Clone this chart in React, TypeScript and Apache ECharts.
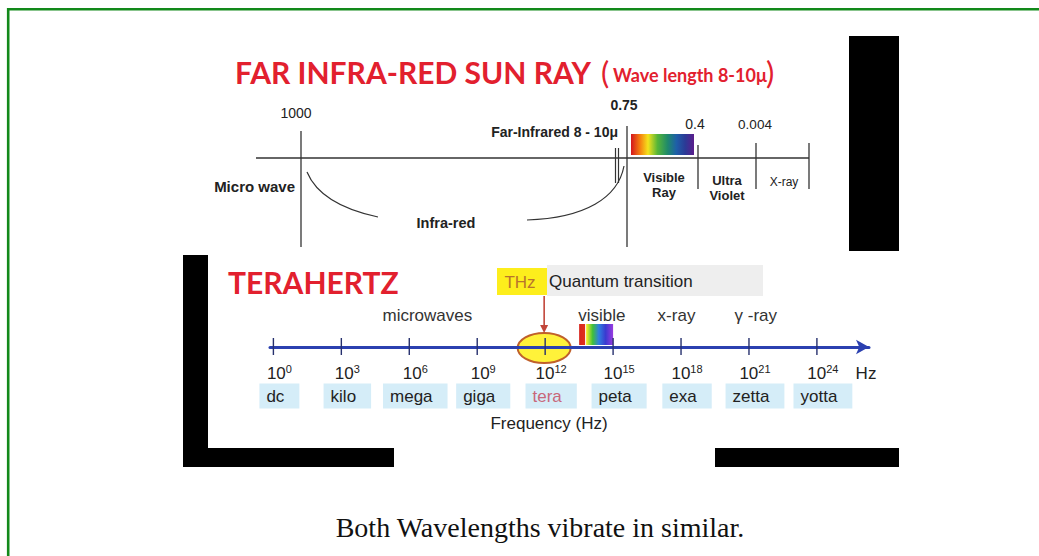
import React, { useEffect, useRef } from 'react';
import * as echarts from 'echarts';

// ---- data ----
const freqExponents = [0, 3, 6, 9, 12, 15, 18, 21, 24];
const prefixNames = ['dc', 'kilo', 'mega', 'giga', 'tera', 'peta', 'exa', 'zetta', 'yotta'];
const bandNames = ['microwaves', 'visible', 'x-ray', 'γ -ray'];
const bandCenters = [6.8, 14.5, 17.8, 21.3];
const visibleRange = [13.5, 15.0];
const terahertzExponent = 12;
const wavelengthTicks = ['1000', '0.75', '0.4', '0.004'];
const wavelengthBands = ['Micro wave', 'Infra-red', 'Visible\nRay', 'Ultra\nViolet', 'X-ray'];
const farInfraredLabel = 'Far-Infrared 8 - 10μ';
const titleMain = 'FAR INFRA-RED SUN RAY';
const titleSub = 'Wave length 8-10μ';
const lowerTitle = 'TERAHERTZ';
const quantumLabel = 'Quantum transition';
const thzLabel = 'THz';
const axisTitle = 'Frequency (Hz)';
const caption = 'Both Wavelengths vibrate in similar.';

const SANS = '"Liberation Sans", Arial, sans-serif';
const TITLE = 'Lato, "Open Sans", sans-serif';
const RED = '#e2202e';
const LINE = '#333333';

const rainbow = (stops: [number, string][]) => ({
  type: 'linear', x: 0, y: 0, x2: 1, y2: 0,
  colorStops: stops.map(([offset, color]) => ({ offset, color })),
});

export default function App() {
  const ref = useRef<HTMLDivElement>(null);
  useEffect(() => {
    if (!ref.current) return;
    const chart = echarts.init(ref.current, null, { renderer: 'svg' });
    const txt = (text: string, x: number, y: number, size: number, opts: any = {}) => ({
      type: 'text', x, y, z: 10,
      style: {
        text, fill: opts.fill || '#222', align: opts.align || 'center', verticalAlign: 'middle',
        font: `${opts.weight || 'normal'} ${size}px ${opts.family || SANS}`,
        lineHeight: opts.lineHeight,
      },
    });
    const ln = (x1: number, y1: number, x2: number, y2: number, w = 1.3) => ({
      type: 'line', z: 5, shape: { x1, y1, x2, y2 }, style: { stroke: LINE, lineWidth: w },
    });

    const graphic: any[] = [
      // frame
      { type: 'rect', z: 1, shape: { x: 8.2, y: 9.3, width: 1200, height: 800 }, style: { fill: 'none', stroke: '#12891a', lineWidth: 2.6 } },
      // black bars
      { type: 'rect', z: 1, shape: { x: 849, y: 36, width: 50, height: 215 }, style: { fill: '#000' } },
      { type: 'rect', z: 1, shape: { x: 183, y: 255, width: 25, height: 212 }, style: { fill: '#000' } },
      { type: 'rect', z: 1, shape: { x: 183, y: 448, width: 211, height: 19 }, style: { fill: '#000' } },
      { type: 'rect', z: 1, shape: { x: 715, y: 448, width: 184, height: 19 }, style: { fill: '#000' } },
      // title
      txt(titleMain, 235, 72, 30, { align: 'left', weight: 'bold', family: TITLE, fill: RED }),
      txt('(', 601, 72, 31, { align: 'left', family: TITLE, fill: RED }),
      txt(titleSub, 613, 75, 18, { align: 'left', weight: 'bold', family: TITLE, fill: RED }),
      txt(')', 766, 72, 31, { align: 'left', family: TITLE, fill: RED }),
      // upper wavelength diagram
      ln(256, 158, 809, 158),
      ln(301, 131, 301, 247),
      ln(627, 126, 627, 247),
      ln(615.5, 148, 615.5, 183, 1.2),
      ln(618.5, 148, 618.5, 183, 1.2),
      ln(698, 145, 698, 189),
      ln(756, 143, 756, 189),
      ln(809, 143, 809, 189),
      { type: 'bezierCurve', z: 5, shape: { x1: 307, y1: 172, cpx1: 317, cpy1: 196, cpx2: 345, cpy2: 210, x2: 378, y2: 217 }, style: { stroke: LINE, lineWidth: 1.2, fill: 'none' } },
      { type: 'bezierCurve', z: 5, shape: { x1: 527, y1: 220, cpx1: 585, cpy1: 218, cpx2: 618, cpy2: 198, x2: 624, y2: 166 }, style: { stroke: LINE, lineWidth: 1.2, fill: 'none' } },
      {
        type: 'rect', z: 4, shape: { x: 631, y: 134, width: 63, height: 21 },
        style: {
          fill: rainbow([[0, '#d4161e'], [0.14, '#f57c0f'], [0.27, '#f4e31c'], [0.42, '#56b638'], [0.58, '#1f8a6a'], [0.72, '#1e5fa8'], [0.86, '#2b3a96'], [1, '#5b1d8c']]),
        },
      },
      txt(wavelengthTicks[0], 296, 113, 14),
      txt(wavelengthTicks[1], 624, 105, 14, { weight: 'bold' }),
      txt(wavelengthTicks[2], 695, 124, 14),
      txt(wavelengthTicks[3], 755, 124, 13.5),
      txt(farInfraredLabel, 618, 132, 14, { align: 'right', weight: 'bold' }),
      txt(wavelengthBands[0], 295, 186, 15, { align: 'right', weight: 'bold' }),
      txt(wavelengthBands[1], 446, 223, 14.5, { weight: 'bold' }),
      txt(wavelengthBands[2], 664, 185, 13, { weight: 'bold', lineHeight: 15 }),
      txt(wavelengthBands[3], 727, 188, 13, { weight: 'bold', lineHeight: 15 }),
      txt(wavelengthBands[4], 784, 182, 12),
      // lower terahertz diagram
      txt(lowerTitle, 228, 282, 30, { align: 'left', weight: 'bold', family: TITLE, fill: RED }),
      { type: 'rect', z: 3, shape: { x: 547, y: 265, width: 216, height: 31 }, style: { fill: '#eeeeee' } },
      { type: 'rect', z: 3, shape: { x: 497, y: 268, width: 50, height: 27 }, style: { fill: '#fdee1c' } },
      txt(thzLabel, 520, 282, 17, { fill: '#b8742c' }),
      txt(quantumLabel, 549, 281, 17, { align: 'left' }),
      txt('Hz', 866, 373, 17),
      txt(axisTitle, 549, 423, 17),
      // caption
      txt(caption, 540, 527, 28, { family: '"Liberation Serif", "DejaVu Serif", serif', fill: '#111' }),
    ];

    const option: any = {
      animation: false,
      backgroundColor: '#ffffff',
      grid: { left: 270, width: 599, top: 300, height: 47 },
      xAxis: {
        type: 'value', min: -0.15, max: 26.3, z: 3,
        splitLine: { show: false },
        axisLine: { show: true, symbol: ['none', 'arrow'], symbolSize: [11, 13], lineStyle: { color: '#2b40b0', width: 3 } },
        axisTick: { show: false },
        axisLabel: {
          customValues: freqExponents,
          margin: 16,
          padding: [0, 0, 0, 12],
          formatter: (v: number) => `{b|10}{s|${v}}`,
          rich: {
            b: { fontSize: 17, fontFamily: SANS, color: '#222', lineHeight: 20 },
            s: { fontSize: 11, fontFamily: SANS, color: '#222', verticalAlign: 'top', lineHeight: 12 },
          },
        },
      },
      yAxis: { type: 'value', min: 0, max: 1, show: false },
      series: [
        {
          type: 'custom', z: 1, silent: true,
          data: [[terahertzExponent, 0]],
          renderItem: (_p: any, api: any) => {
            const p = api.coord([api.value(0), 0]);
            const cx = p[0] - 1;
            return {
              type: 'group',
              children: [
                { type: 'ellipse', shape: { cx, cy: p[1] + 1, rx: 26.5, ry: 15 }, style: { fill: '#fff23a', stroke: '#c0602a', lineWidth: 2 } },
                { type: 'line', shape: { x1: cx, y1: 296, x2: cx, y2: 326 }, style: { stroke: '#c2463a', lineWidth: 1.6 } },
                { type: 'polygon', shape: { points: [[cx - 4, 325], [cx + 4, 325], [cx, 333]] }, style: { fill: '#c2463a' } },
              ],
            };
          },
        },
        {
          type: 'custom', z: 2, silent: true,
          data: [[visibleRange[0], visibleRange[1]]],
          renderItem: (_p: any, api: any) => {
            const a = api.coord([api.value(0), 0]);
            const b = api.coord([api.value(1), 0]);
            return {
              type: 'rect',
              shape: { x: a[0], y: a[1] - 23, width: b[0] - a[0], height: 21 },
              style: {
                fill: rainbow([[0, '#d7261e'], [0.17, '#e0301c'], [0.19, '#ffffff'], [0.22, '#f2ee2a'], [0.4, '#3fc03a'], [0.58, '#2e7fe0'], [0.78, '#3a3ad0'], [1, '#9a3ae0']]),
              },
            };
          },
        },
        {
          type: 'custom', z: 6, silent: true,
          data: freqExponents.map((e) => [e, 0]),
          renderItem: (_p: any, api: any) => {
            const p = api.coord([api.value(0), 0]);
            return { type: 'line', shape: { x1: p[0], y1: p[1] - 9, x2: p[0], y2: p[1] + 8 }, style: { stroke: '#26306e', lineWidth: 1.4 } };
          },
        },
        {
          type: 'custom', z: 6, silent: true,
          data: freqExponents.map((e) => [e, 0]),
          renderItem: (p: any, api: any) => {
            const c = api.coord([api.value(0), 0]);
            const name = prefixNames[p.dataIndex];
            return {
              type: 'text', x: c[0] + 6, y: c[1] + 49,
              style: {
                text: name, fill: name === 'tera' ? '#c8677a' : '#222', font: `17px ${SANS}`,
                align: 'center', verticalAlign: 'middle', backgroundColor: '#d5edf8', padding: [4, 15, 4, 7],
              },
            };
          },
        },
        {
          type: 'custom', z: 6, silent: true,
          data: bandCenters.map((e) => [e, 0]),
          renderItem: (p: any, api: any) => {
            const c = api.coord([api.value(0), 0]);
            return {
              type: 'text', x: c[0], y: c[1] - 32,
              style: { text: bandNames[p.dataIndex], fill: '#333', font: `17px ${SANS}`, align: 'center', verticalAlign: 'middle' },
            };
          },
        },
      ],
      graphic,
    };
    chart.setOption(option);
    return () => chart.dispose();
  }, []);
  return <div ref={ref} style={{ position: 'absolute', left: 0, top: 0, width: 1039, height: 556, background: '#fff' }} />;
}
